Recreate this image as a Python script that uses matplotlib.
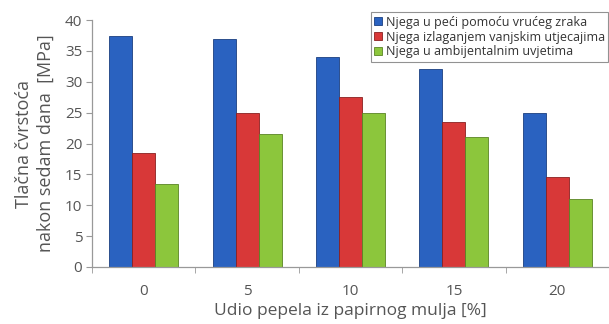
#!/usr/bin/env python3
"""Compressive strength after seven days vs. paper sludge ash share."""

import matplotlib
matplotlib.use("Agg")
import matplotlib.pyplot as plt
import numpy as np

ASH_SHARE = ["0", "5", "10", "15", "20"]
OVEN_AIR = [37.5, 37.0, 34.0, 32.0, 25.0]
OUTDOOR = [18.5, 25.0, 27.5, 23.5, 14.5]
AMBIENT = [13.5, 21.5, 25.0, 21.0, 11.0]
SERIES_NAMES = [
    "Njega u peći pomoću vrućeg zraka",
    "Njega izlaganjem vanjskim utjecajima",
    "Njega u ambijentalnim uvjetima",
]

COLORS = ["#2a62c0", "#d83838", "#8cc63c"]
EDGES = ["#1b3f80", "#8a2020", "#5a8424"]
TEXT = "#555555"

plt.rcParams["font.family"] = ["Open Sans", "DejaVu Sans"]

fig = plt.figure(figsize=(6.09, 3.24), dpi=100)
ax = fig.add_axes([0.151, 0.176, 0.849, 0.762])

x = np.arange(len(ASH_SHARE))
width = 0.222
for i, (vals, name) in enumerate(zip([OVEN_AIR, OUTDOOR, AMBIENT], SERIES_NAMES)):
    ax.bar(x + (i - 1) * width, vals, width, color=COLORS[i], edgecolor=EDGES[i],
           linewidth=0.6, label=name, zorder=2)

ax.set_xlim(-0.5, len(ASH_SHARE) - 0.5)
ax.set_ylim(0, 40)
ax.set_yticks(range(0, 41, 5))
ax.set_xticks(x)
ax.set_xticklabels(ASH_SHARE)
ax.set_xticks(np.arange(-0.5, len(ASH_SHARE)), minor=True)
ax.tick_params(axis="x", which="major", length=0, pad=12, labelsize=11, labelcolor=TEXT)
ax.tick_params(axis="x", which="minor", length=4, color="#999999")
ax.tick_params(axis="y", length=4, color="#999999", labelsize=11, labelcolor=TEXT, pad=3)

for side in ["top", "right"]:
    ax.spines[side].set_visible(False)
for side in ["left", "bottom"]:
    ax.spines[side].set_color("#999999")
    ax.spines[side].set_linewidth(0.9)

ax.set_xlabel("Udio pepela iz papirnog mulja [%]", fontsize=12.5, color=TEXT, labelpad=3)
ax.set_ylabel("Tlačna čvrstoća\nnakon sedam dana  [MPa]", fontsize=13, color=TEXT,
              labelpad=7, linespacing=1.3)

leg = ax.legend(loc="upper right", bbox_to_anchor=(0.999, 1.033), fontsize=9,
                frameon=True, fancybox=False, handlelength=0.6, handleheight=0.6,
                handletextpad=0.3, borderpad=0.3, labelspacing=0.15, borderaxespad=0)
leg.get_frame().set_edgecolor("#777777")
leg.get_frame().set_linewidth(0.8)
for t in leg.get_texts():
    t.set_color("#333333")

fig.savefig("out.png", dpi=100)
